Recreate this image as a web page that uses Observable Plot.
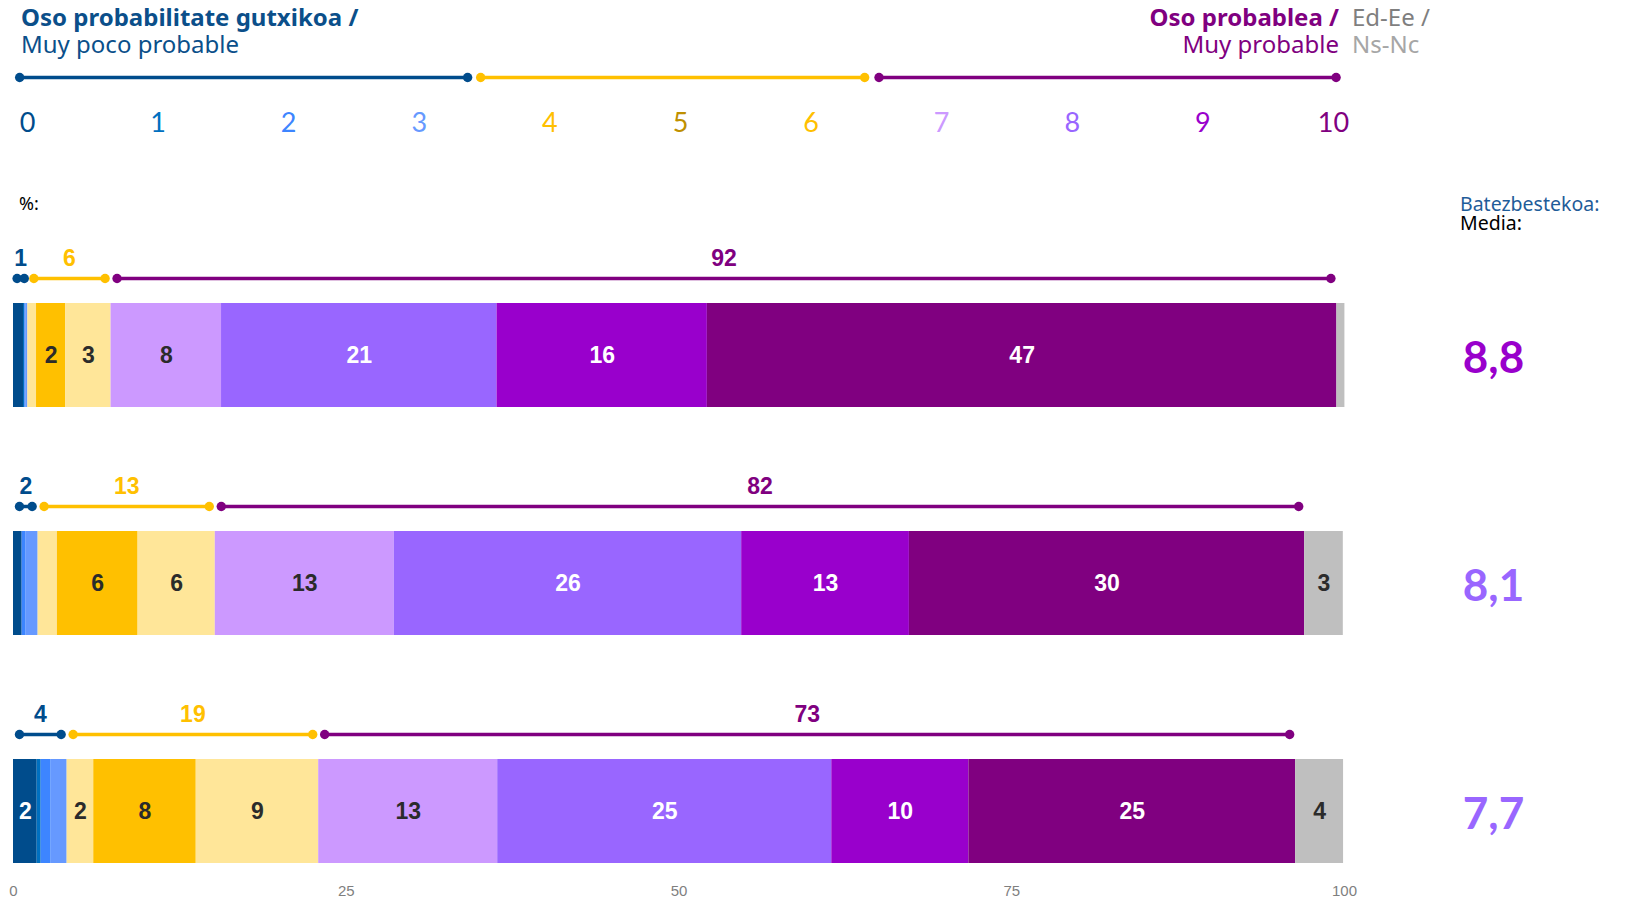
<!DOCTYPE html>
<html><head><meta charset="utf-8">
<script src="https://cdn.jsdelivr.net/npm/d3@7"></script>
<script src="https://cdn.jsdelivr.net/npm/@observablehq/plot@0.6"></script>
<style>
body{margin:0;background:#fff;width:1629px;height:901px;position:relative;overflow:hidden;font-family:"Noto Sans",sans-serif}
.t{position:absolute;white-space:nowrap}
#main,#header{position:absolute;left:0;top:0}
</style></head><body>
<div id="main"></div><div id="header"></div>
<div class="t" style="left:21px;top:3px;font-size:24px;line-height:27px;color:#0B4F8A"><b>Oso probabilitate gutxikoa /</b><br>Muy poco probable</div>
<div class="t" style="right:290px;top:3px;font-size:24px;line-height:27px;color:#800080;text-align:right"><b>Oso probablea /</b><br>Muy probable</div>
<div class="t" style="left:1352px;top:3px;font-size:24px;line-height:27px"><span style="color:#7F7F7F">Ed-Ee /</span><br><span style="color:#A6A6A6">Ns-Nc</span></div>
<div class="t" style="left:19px;top:193px;font-size:18px;line-height:20px;color:#000">%:</div>
<div class="t" style="left:1460px;top:194px;font-size:19.5px;line-height:19px"><span style="color:#1F5C99">Batezbestekoa:</span><br><span style="color:#000">Media:</span></div>
<script>
// ---- data ----
const categories = ["0","1","2","3","4","5","6","7","8","9","10","Ed-Ee / Ns-Nc"];
const segColors = ["#004C8C","#0070C0","#3D85FF","#6699FF","#FFE699","#FFC000","#FFE699","#CC99FF","#9966FF","#9900CC","#800080","#BFBFBF"];
const scaleColors = ["#004C8C","#0070C0","#3D85FF","#6699FF","#FFC000","#BF9000","#FFC000","#CC99FF","#9966FF","#9900CC","#800080"];
const labelDark = [false,false,false,false,true,true,true,true,false,false,false,true];
const rows = ["r1","r2","r3"];
const row1 = [0.75,0.1,0.1,0.13,0.65,2.2,3.4,8.3,20.7,15.8,47.3,0.6];
const row2 = [0.65,0,0.3,0.9,1.45,6.06,5.8,13.45,26.1,12.6,29.7,2.9];
const row3 = [1.78,0.3,0.75,1.2,2.0,7.7,9.2,13.45,25.1,10.3,24.55,3.6];
const means = [8.8, 8.1, 7.7];
const groupNames = ["low","mid","high"];
const groupMembers = [[0,1,2,3],[4,5,6],[7,8,9,10]];
const groupColors = ["#004C8C","#FFC000","#800080"];
const spanFrom = [-0.06, 3.47, 6.52];
const spanTo = [3.37, 6.41, 10.02];
const xTicks = [0,25,50,75,100];
const scaleValues = [0,1,2,3,4,5,6,7,8,9,10];

// ---- derived tables ----
const rowValues = [row1,row2,row3];
const segs = [];
const groups = [];
rowValues.forEach((vals,ri)=>{
  let acc = 0;
  const starts = [];
  vals.forEach((v,ci)=>{
    starts.push(acc);
    segs.push({row:rows[ri],cat:categories[ci],v,x1:acc,x2:acc+v,color:segColors[ci],tc:labelDark[ci]?"#2b2b2b":"#ffffff"});
    acc += v;
  });
  groupMembers.forEach((m,gi)=>{
    const a = starts[m[0]];
    const b = starts[m[m.length-1]] + vals[m[m.length-1]];
    const sum = d3.sum(m, i=>vals[i]);
    const inset = Math.min(0.45, (b-a)/4);
    groups.push({row:rows[ri],g:groupNames[gi],a:a+inset,b:b-inset,sum,color:groupColors[gi]});
  });
});
const groupEnds = groups.flatMap(d=>[{row:d.row,x:d.a,color:d.color},{row:d.row,x:d.b,color:d.color}]);
const meanData = means.map((m,i)=>({row:rows[i],m,color:segColors[Math.round(m)]}));

const main = Plot.plot({
  width:1629, height:901,
  marginLeft:13, marginRight:285, marginTop:302, marginBottom:38,
  x:{domain:[0,100]},
  y:{domain:rows, axis:null, paddingInner:0.545, paddingOuter:0},
  style:{fontFamily:"Liberation Sans, Arial, sans-serif", background:"transparent"},
  marks:[
    Plot.barX(segs,{x1:"x1",x2:"x2",y:"row",fill:"color",insetTop:0,insetBottom:0}),
    Plot.text(segs.filter(d=>d.v>=1.5),{x:d=>(d.x1+d.x2)/2,y:"row",text:d=>String(Math.round(d.v)),fill:"tc",fontSize:23,fontWeight:700}),
    Plot.link(groups,{x1:"a",x2:"b",y1:"row",y2:"row",stroke:"color",strokeWidth:3.5,dy:-77}),
    Plot.dot(groupEnds,{x:"x",y:"row",r:4.7,fill:"color",dy:-77}),
    Plot.text(groups,{x:d=>(d.a+d.b)/2,y:"row",text:d=>String(Math.round(d.sum)),fill:"color",fontSize:23,fontWeight:700,dy:-97}),
    Plot.text(meanData,{y:"row",frameAnchor:"right",dx:149,dy:3,textAnchor:"middle",text:d=>d.m.toFixed(1).replace(".",","),fill:"color",fontSize:44,fontWeight:700,fontFamily:"Lato, sans-serif"}),
    Plot.axisX({ticks:xTicks,tickSize:0,tickPadding:22,fontSize:15,color:"#7F7F7F",label:null})
  ]
});
document.getElementById("main").appendChild(main);

const header = Plot.plot({
  width:1629, height:150,
  marginLeft:27, marginRight:296, marginTop:0, marginBottom:0,
  x:{domain:[0,10], axis:null},
  y:{type:"point", domain:["line","nums"], range:[77,123], padding:0, axis:null},
  style:{fontFamily:"Lato, sans-serif", background:"transparent"},
  marks:[
    Plot.link(groupNames.map((g,i)=>({g,from:spanFrom[i],to:spanTo[i],color:groupColors[i]})),{x1:"from",x2:"to",y1:()=>"line",y2:()=>"line",stroke:"color",strokeWidth:3.5}),
    Plot.dot(groupNames.flatMap((g,i)=>[{x:spanFrom[i],color:groupColors[i]},{x:spanTo[i],color:groupColors[i]}]),{x:"x",y:()=>"line",r:4.7,fill:"color"}),
    Plot.text(scaleValues,{x:d=>d,y:()=>"nums",text:d=>String(d),fill:d=>scaleColors[d],fontSize:27})
  ]
});
document.getElementById("header").appendChild(header);
</script>
</body></html>
